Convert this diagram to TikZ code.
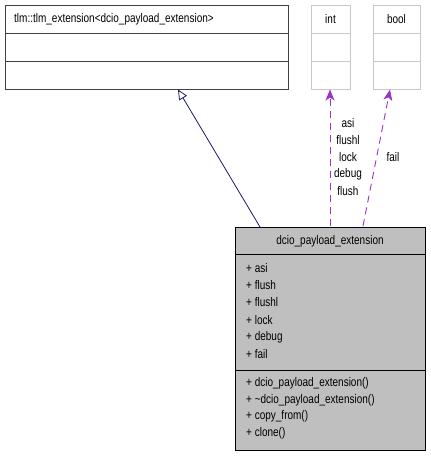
\documentclass[tikz,border=0pt]{standalone}
\usepackage{fontspec}
\setmainfont{Liberation Sans}
\newfontfamily\dfont[FakeStretch=0.8]{Liberation Sans}
\usetikzlibrary{arrows.meta}
\definecolor{inhblue}{HTML}{191970}
\definecolor{usepurple}{HTML}{9A32CD}
\definecolor{lgray}{HTML}{C8C8C8}
\definecolor{fillgray}{HTML}{BFBFBF}
\begin{document}
\begin{tikzpicture}[x=1pt,y=-1pt,
  txt/.style={font=\dfont\fontsize{12.5}{14}\selectfont, inner sep=0pt, text=black},
  ltxt/.style={txt, anchor=west},
  basebox/.style={draw=black!75, line width=1pt, fill=white},
  typebox/.style={draw=lgray, line width=1pt, fill=white},
  mainbox/.style={draw=black, line width=1pt, fill=fillgray},
  inh/.style={draw=inhblue, line width=0.8pt, -{Triangle[open, length=10pt, width=9pt]}},
  usedash/.style={draw=usepurple, line width=0.9pt, dash pattern=on 7pt off 5pt, -{Stealth[length=11pt, width=9pt, inset=3pt]}}]
\useasboundingbox (0,0) rectangle (431,456);
% base class box
\node[basebox, minimum width=283pt, minimum height=84pt, inner sep=0pt] (base) at (146.5,47) {};
\draw[black!75, line width=1pt] (5,33) -- (288,33) (5,61) -- (288,61);
\node[ltxt] (basetitle) at (14,19) {tlm::tlm\_extension<dcio\_payload\_extension>};
% int box
\node[typebox, minimum width=39pt, minimum height=84pt, inner sep=0pt] (int) at (330.5,47) {};
\draw[lgray, line width=1pt] (311,33) -- (350,33) (311,61) -- (350,61);
\node[txt] (inttitle) at (330.5,19) {int};
% bool box
\node[typebox, minimum width=47pt, minimum height=84pt, inner sep=0pt] (bool) at (396.5,47) {};
\draw[lgray, line width=1pt] (373,33) -- (420,33) (373,61) -- (420,61);
\node[txt] (booltitle) at (396.5,19) {bool};
% main class box
\node[mainbox, minimum width=190pt, minimum height=223pt, inner sep=0pt] (main) at (330,338.5) {};
\draw[black, line width=1pt] (235,254) -- (425,254) (235,370) -- (425,370);
\node[txt] (maintitle) at (330,241) {dcio\_payload\_extension};
\node[ltxt] (a1) at (246,268) {+ asi};
\node[ltxt] (a2) at (246,285) {+ flush};
\node[ltxt] (a3) at (246,302) {+ flushl};
\node[ltxt] (a4) at (246,320) {+ lock};
\node[ltxt] (a5) at (246,337) {+ debug};
\node[ltxt] (a6) at (246,354) {+ fail};
\node[ltxt] (m1) at (246,383) {+ dcio\_payload\_extension()};
\node[ltxt] (m2) at (246,400) {+ \textasciitilde dcio\_payload\_extension()};
\node[ltxt] (m3) at (246,416) {+ copy\_from()};
\node[ltxt] (m4) at (246,433) {+ clone()};
% connector endpoints
\coordinate (inhS) at (260,227);
\coordinate (inhE) at (178,89.5);
\coordinate (intS) at (330,226);
\coordinate (intE) at (330,89.5);
\coordinate (boolS) at (363,226);
\coordinate (boolE) at (390,89.5);
\draw[inh] (inhS) -- (inhE);
\draw[usedash] (intS) -- (intE);
\draw[usedash] (boolS) -- (boolE);
% labels
\node[txt] (l1) at (348,123) {asi};
\node[txt] (l2) at (348,140) {flushl};
\node[txt] (l3) at (348,157) {lock};
\node[txt] (l4) at (348,174) {debug};
\node[txt] (l5) at (348,191) {flush};
\node[txt] (l6) at (393,157) {fail};
\end{tikzpicture}
\end{document}
